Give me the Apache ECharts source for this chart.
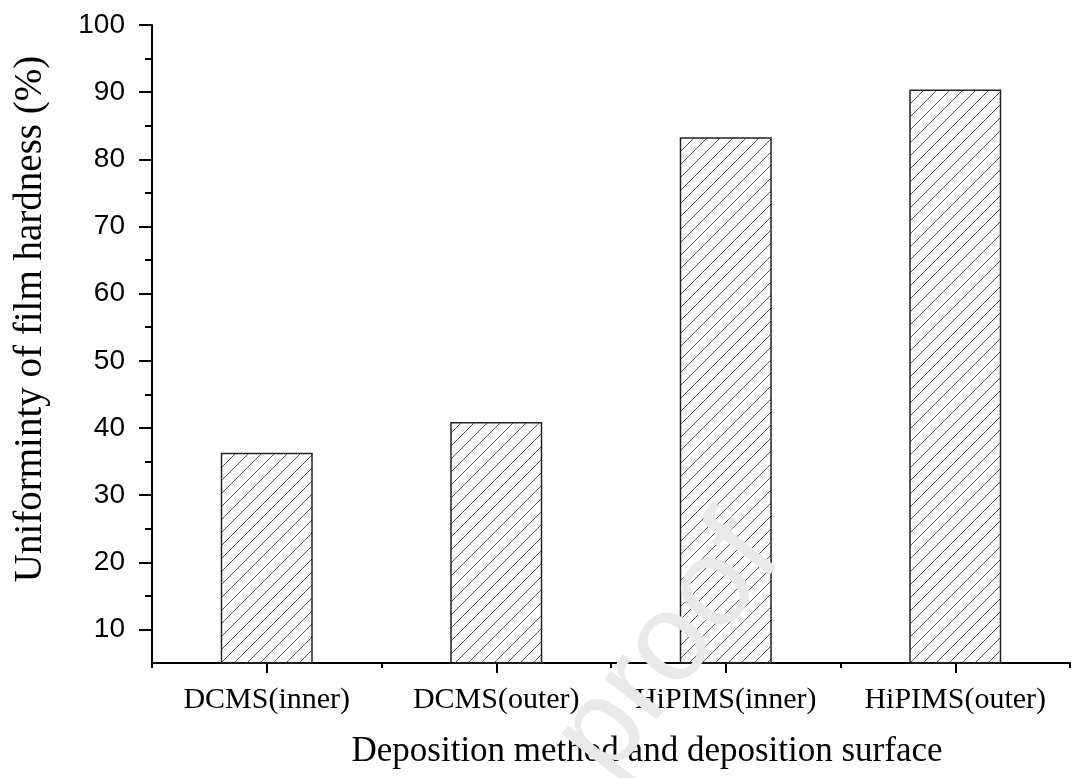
<!DOCTYPE html>
<html>
<head>
<meta charset="utf-8">
<script src="https://cdn.jsdelivr.net/npm/echarts@6/dist/echarts.min.js"></script>
<style>
  html, body { margin: 0; padding: 0; background: #fff; }
  #chart { width: 1071px; height: 778px; }
</style>
</head>
<body>
<div id="chart"></div>
<script>
const categories = ["DCMS(inner)", "DCMS(outer)", "HiPIMS(inner)", "HiPIMS(outer)"];
const uniformity = [36.3, 40.9, 83.3, 90.4];
const majorTicks = [10, 20, 30, 40, 50, 60, 70, 80, 90, 100];
const minorTicks = [15, 25, 35, 45, 55, 65, 75, 85, 95];

// hatch tile: "///" lines
function makeHatch() {
  const s = 13;
  const c = document.createElement("canvas");
  c.width = s;
  c.height = s;
  const ctx = c.getContext("2d");
  ctx.strokeStyle = "#555";
  ctx.lineWidth = 1;
  ctx.beginPath();
  ctx.moveTo(-1, s + 1);
  ctx.lineTo(s + 1, -1);
  ctx.moveTo(-1, 1);
  ctx.lineTo(1, -1);
  ctx.moveTo(s - 1, s + 1);
  ctx.lineTo(s + 1, s - 1);
  ctx.stroke();
  return c;
}

const chart = echarts.init(document.getElementById("chart"));

const axisLine = { show: true, lineStyle: { color: "#000", width: 2 } };

const option = {
  backgroundColor: "#fff",
  animation: false,
  grid: { left: 152, right: 1, top: 25, bottom: 115 },
  xAxis: [
    {
      type: "category",
      data: categories,
      axisLine: axisLine,
      axisTick: { show: true, interval: 0, length: 5, lineStyle: { color: "#000", width: 2 } },
      axisLabel: {
        interval: 0,
        hideOverlap: false,
        color: "#000",
        fontFamily: "Liberation Serif",
        fontSize: 30,
        margin: 22,
      },
      name: "Deposition method and deposition surface",
      nameLocation: "middle",
      nameGap: 71,
      nameTextStyle: {
        color: "#000",
        fontFamily: "Liberation Serif",
        fontSize: 35,
        padding: [0, 0, 0, 72],
      },
    },
    {
      type: "category",
      data: categories,
      position: "bottom",
      axisLine: { show: false },
      axisTick: {
        show: true,
        interval: 0,
        alignWithLabel: true,
        length: 10,
        lineStyle: { color: "#000", width: 2 },
      },
      axisLabel: { show: false, interval: 0 },
    },
  ],
  yAxis: [
    {
      type: "value",
      min: 5,
      max: 100,
      axisLine: axisLine,
      splitLine: { show: false },
      axisTick: {
        show: true,
        length: 13,
        customValues: majorTicks,
        lineStyle: { color: "#000", width: 2 },
      },
      axisLabel: {
        color: "#000",
        fontFamily: "Liberation Sans",
        fontSize: 28,
        margin: 27,
        customValues: majorTicks,
      },
      name: "Uniforminty of film hardness (%)",
      nameLocation: "middle",
      nameGap: 102,
      nameTextStyle: {
        color: "#000",
        fontFamily: "Liberation Serif",
        fontSize: 39,
        padding: [0, 0, 0, 50],
      },
    },
    {
      type: "value",
      min: 5,
      max: 100,
      position: "left",
      axisLine: { show: false },
      splitLine: { show: false },
      axisTick: {
        show: true,
        length: 7,
        customValues: minorTicks,
        lineStyle: { color: "#000", width: 2 },
      },
      axisLabel: { show: false },
    },
  ],
  series: [
    {
      type: "bar",
      data: uniformity,
      barWidth: 92,
      itemStyle: {
        color: { image: makeHatch(), repeat: "repeat" },
        borderColor: "#222",
        borderWidth: 1.5,
      },
    },
  ],
  graphic: [
    {
      type: "text",
      left: 532,
      top: 497,
      rotation: (52 * Math.PI) / 180,
      z: 100,
      style: {
        text: "proof",
        fill: "#e9e9e9",
        fontFamily: "Liberation Sans",
        fontSize: 125,
      },
    },
  ],
};

chart.setOption(option);
</script>
</body>
</html>
